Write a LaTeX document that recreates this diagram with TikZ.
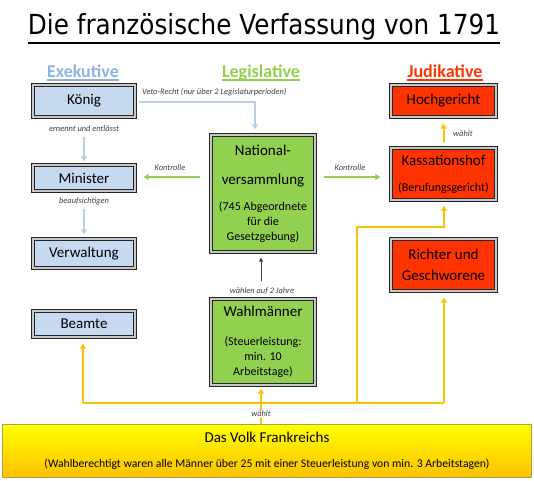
\documentclass[tikz,border=0pt]{standalone}
\usepackage{fontspec}
\setmainfont{Carlito}
\newfontfamily\titlefont{DejaVu Sans}
\usetikzlibrary{arrows.meta}
\definecolor{exblue}{HTML}{8DB3E2}
\definecolor{boxblue}{HTML}{C6D9F1}
\definecolor{legreen}{HTML}{92D050}
\definecolor{jured}{HTML}{FF3300}
\definecolor{arryellow}{HTML}{FFC000}
\definecolor{arrblue}{HTML}{B9CDE5}
\definecolor{lblgray}{HTML}{404040}
\definecolor{volkborder}{HTML}{A89E50}
\begin{document}
\begin{tikzpicture}[x=1pt,y=1pt,
  box/.style={draw=black!85, line width=1pt, double=gray!45, double distance=1.6pt,
    inner sep=0pt, align=center, font=\fontsize{15}{15}\selectfont},
  smalltxt/.style={font=\fontsize{12}{15}\selectfont},
  exbox/.style={box, fill=boxblue, minimum width=102.4pt},
  legbox/.style={box, smalltxt, fill=legreen, minimum width=104.4pt},
  jubox/.style={box, fill=jured, minimum width=105.4pt},
  lbl/.style={font=\fontsize{8.4}{10}\selectfont\itshape, text=lblgray, inner sep=1pt},
  head/.style={font=\bfseries\fontsize{18}{22}\selectfont, anchor=base, inner sep=0pt},
  blarrow/.style={draw=arrblue, line width=2pt, -{Triangle[length=5pt,width=6pt]}},
  grarrow/.style={draw=legreen, line width=2pt, -{Triangle[length=5pt,width=6pt]}},
  yarrow/.style={draw=arryellow, line width=2pt, line join=miter, -{Triangle[length=5pt,width=6pt]}},
  yline/.style={draw=arryellow, line width=2pt, line join=miter},
  bkarrow/.style={draw=black!75, line width=0.9pt, -{Triangle[length=4pt,width=4pt]}}
]
\useasboundingbox (0,0) rectangle (534,-480);

% title
\node[anchor=base, inner sep=0pt] (title) at (264,-34)
  {\resizebox{472pt}{21pt}{\titlefont Die französische Verfassung von 1791}};
\draw[line width=2pt] ([yshift=-8.5pt]title.base west) -- ([yshift=-8.5pt]title.base east);

% headings
\node[head, text=exblue] (hex) at (83,-77) {Exekutive};
\node[head, text=legreen] (hleg) at (261,-77) {Legislative};
\node[head, text=jured] (hju) at (445,-77) {Judikative};
\draw[exblue, line width=1.3pt] ([yshift=-3pt]hex.base west) -- ([yshift=-3pt]hex.base east);
\draw[legreen, line width=1.3pt] ([yshift=-3pt]hleg.base west) -- ([yshift=-3pt]hleg.base east);
\draw[jured, line width=1.3pt] ([yshift=-3pt]hju.base west) -- ([yshift=-3pt]hju.base east);

% executive
\node[exbox, minimum height=32.4pt] (koenig) at (84,-101) {König};
\node[exbox, minimum height=26.4pt] (minister) at (84,-178) {Minister};
\node[exbox, minimum height=29.4pt] (verwaltung) at (84,-253.5) {Verwaltung};
\node[exbox, minimum height=26.4pt] (beamte) at (84,-324) {Beamte};

% legislative
\node[legbox, minimum height=117.4pt] (nat) at (263,-193.5)
  {{\fontsize{15}{15}\selectfont National-}\\[14pt]{\fontsize{15}{15}\selectfont versammlung}\\[11pt](745 Abgeordnete\\für die\\Gesetzgebung)};
\node[legbox, minimum height=86.4pt] (wahl) at (263,-342)
  {{\fontsize{15}{15}\selectfont Wahlmänner}\\[14pt](Steuerleistung:\\min. 10\\Arbeitstage)};

% judicative
\node[jubox, minimum height=32.4pt] (hoch) at (443.5,-101) {Hochgericht};
\node[jubox, smalltxt, minimum height=52.4pt] (kass) at (443.5,-174)
  {{\fontsize{15}{15}\selectfont Kassationshof}\\[11pt](Berufungsgericht)};
\node[jubox, minimum height=52.4pt] (richter) at (443.5,-265)
  {Richter und\\[6pt]Geschworene};

% people
\node[draw=volkborder, line width=1pt, top color=yellow, bottom color=arryellow,
      minimum width=529pt, minimum height=53pt, align=center, inner sep=0pt,
      font=\fontsize{11.7}{13}\selectfont] (volk) at (267,-451)
  {{\fontsize{15}{15}\selectfont Das Volk Frankreichs}\\[12pt](Wahlberechtigt waren alle Männer über 25 mit einer Steuerleistung von min. 3 Arbeitstagen)};

% executive arrows
\draw[blarrow, shorten <=19pt, shorten >=3pt] (koenig.south) -- (minister.north);
\node[lbl] (l-ernennt) at (84,-129) {ernennt und entlässt};
\draw[blarrow, shorten <=17pt, shorten >=4pt] (minister.south) -- (verwaltung.north);
\node[lbl] (l-beauf) at (84,-201) {beaufsichtigen};

% veto
\draw[blarrow, line join=miter] ([xshift=3pt,yshift=-1pt]koenig.east) -| ([xshift=-8pt,yshift=5pt]nat.north);
\node[lbl, anchor=west] (l-veto) at (141,-92) {Veto-Recht (nur über 2 Legislaturperioden)};

% control arrows
\draw[grarrow, shorten <=10pt, shorten >=8pt] ([yshift=1pt]nat.west |- minister.east) -- ([yshift=1pt]minister.east);
\node[lbl] (l-kontr1) at (170,-168) {Kontrolle};
\draw[grarrow, shorten <=8pt, shorten >=10pt] ([yshift=1pt]nat.east |- minister.east) -- ([yshift=1pt]kass.west |- minister.east);
\node[lbl] (l-kontr2) at (350,-168) {Kontrolle};

% Kassationshof -> Hochgericht
\draw[yarrow, shorten <=5pt, shorten >=6pt] (kass.north) -- (hoch.south);
\node[lbl, anchor=west] (l-waehlt1) at (452,-134) {wählt};

% Wahlmaenner -> Nationalversammlung
\draw[bkarrow, shorten <=17pt, shorten >=5pt] ([xshift=-2pt]wahl.north) -- ([xshift=-2pt]nat.south);
\node[lbl] (l-wahl2) at (262,-291) {wählen auf 2 Jahre};

% people tree
\coordinate (hleft) at (83,-403);
\coordinate (hright) at (444,-403);
\coordinate (hbranch) at (357,-403);
\coordinate (kturn) at (444,-227);
\draw[yline] (hleft) -- (hright);
\draw[yarrow, shorten >=6pt] (hleft) -- (hleft |- beamte.south);
\draw[yarrow, shorten >=6pt] (hright) -- (hright |- richter.south);
\draw[yarrow, shorten >=5pt] (hbranch) |- (kturn) -- (kturn |- kass.south);
\draw[yarrow, shorten >=3pt] ([xshift=-2pt]volk.north -| wahl.south) -- ([xshift=-2pt]wahl.south);
\node[lbl, fill=white, inner sep=1.5pt] (l-waehlt2) at (261,-414) {wählt};
\end{tikzpicture}
\end{document}
